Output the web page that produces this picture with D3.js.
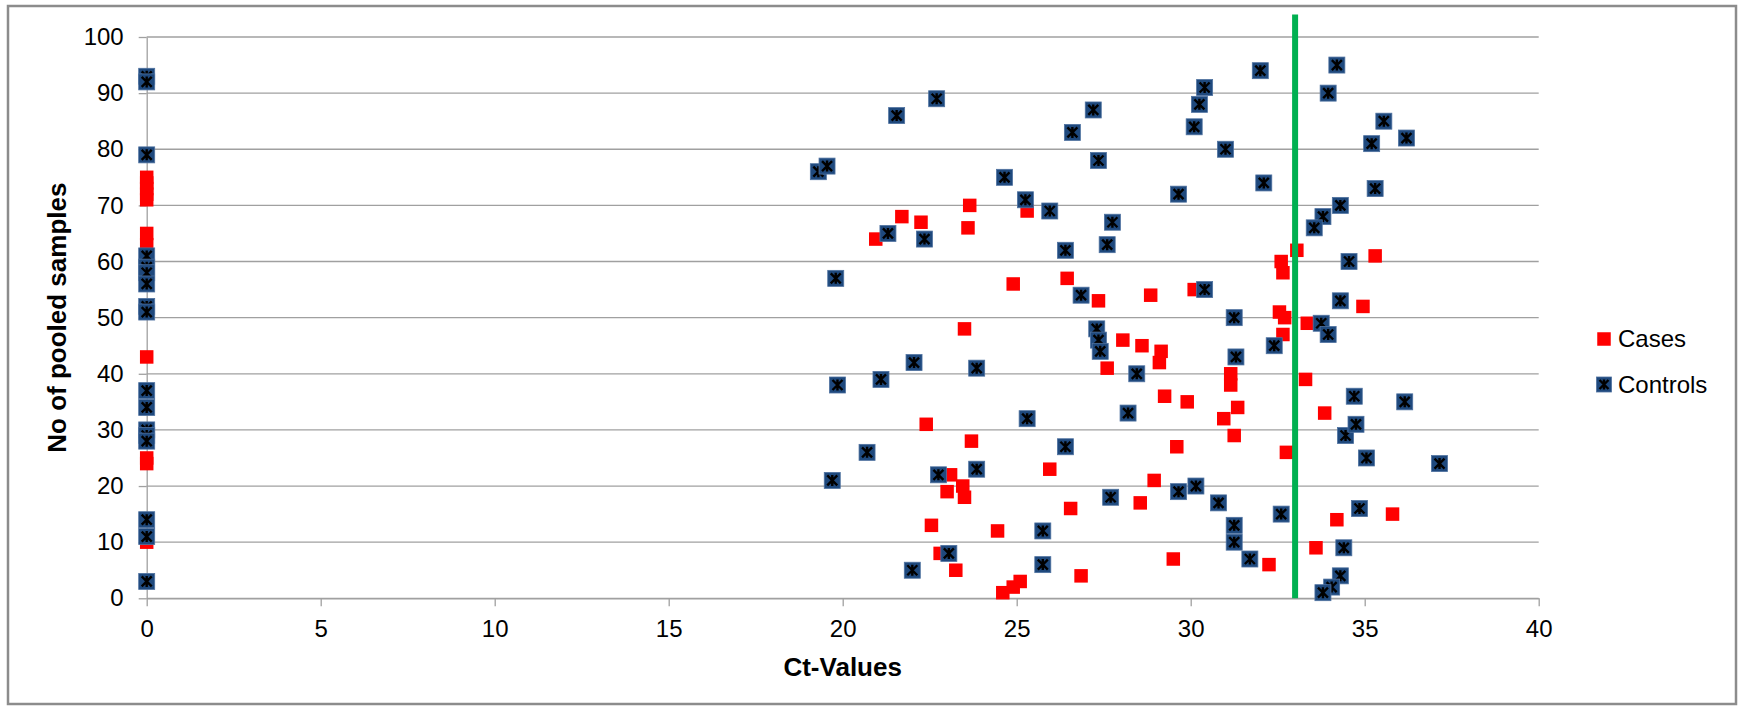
<!DOCTYPE html>
<html>
<head>
<meta charset="utf-8">
<script src="https://cdn.jsdelivr.net/npm/d3@7"></script>
<style>
  body { margin: 0; background: #fff; }
  svg text { font-family: Arial, "Liberation Sans", sans-serif; }
</style>
</head>
<body>
<div id="chart"></div>
<script>
// Cases (red squares): Ct value and pool number
const casesCt = [
  0, 0, 0, 0, 0, 0, 0, 0, 0, 0, 0,
  23.65, 21.7, 22.25, 23.6, 20.95, 24.9, 23.5, 22.4, 23.7, 23.1, 23.45, 23.0, 23.5, 22.55, 24.45, 22.8, 23.25, 24.6,
  25.3, 26.45, 27.35, 28.85, 28.05, 28.6, 29.15, 29.1, 27.6, 29.25, 29.9, 29.6, 25.95, 28.95, 28.55, 26.55, 29.5, 26.85, 25.1, 24.9,
  33.05, 32.6, 32.65, 30.1, 32.55, 32.7, 33.35, 32.65, 31.15, 31.15, 33.3, 31.35, 30.95, 33.85, 31.25, 32.75, 34.2, 33.6, 32.25,
  35.3, 34.95, 35.8
];
const casesNo = [
  75, 74, 73, 72, 71, 65, 63, 43, 25, 24, 10,
  70, 68, 67, 66, 64, 56, 48, 31, 28, 22, 20, 19, 18, 13, 12, 8, 5, 1,
  69, 57, 53, 54, 46, 45, 44, 42, 41, 36, 35, 27, 23, 21, 17, 16, 7, 4, 3, 2,
  62, 60, 58, 55, 51, 50, 49, 47, 40, 38, 39, 34, 32, 33, 29, 26, 14, 9, 6,
  61, 52, 15
];

// Controls (blue starred squares)
const controlsCt = [
  0, 0, 0, 0, 0, 0, 0, 0, 0, 0, 0, 0, 0, 0, 0, 0, 0,
  22.7, 21.55, 19.3, 19.55, 24.65, 21.3, 22.35, 19.8, 22.05, 23.85, 21.1, 19.85, 20.7, 23.85, 22.75, 19.7, 23.05, 22.0,
  27.2, 26.6, 27.35, 25.25, 29.65, 25.95, 27.75, 27.6, 26.4, 26.85, 27.3, 27.35, 27.4, 28.45, 25.3, 28.2, 26.4, 27.7, 29.65, 25.75, 25.75,
  32.0, 34.2, 30.4, 30.25, 33.95, 30.1, 31.0, 32.1, 34.3, 33.8, 33.55, 34.55, 30.4, 34.3, 31.25, 33.75, 33.95, 32.4, 31.3,
  34.7, 34.45, 30.15, 30.8, 32.6, 31.25, 31.25, 34.4, 31.7, 34.3, 34.05, 33.8,
  35.55, 36.2, 35.2, 35.3, 36.15, 34.75, 35.05, 37.15, 34.85
];
const controlsNo = [
  93, 92, 79, 61, 59, 58, 56, 52, 51, 37, 34, 30, 29, 28, 14, 11, 3,
  89, 86, 76, 77, 75, 65, 64, 57, 42, 41, 39, 38, 26, 23, 22, 21, 8, 5,
  87, 83, 78, 71, 72, 69, 67, 63, 62, 54, 48, 46, 44, 40, 32, 33, 27, 18, 19, 12, 6,
  94, 95, 91, 88, 90, 84, 80, 74, 70, 68, 66, 60, 55, 53, 50, 49, 47, 45, 43,
  36, 29, 20, 17, 15, 13, 10, 9, 7, 4, 2, 1,
  85, 82, 81, 73, 35, 31, 25, 24, 16
];

const xTicks = [0, 5, 10, 15, 20, 25, 30, 35, 40];
const yTicks = [0, 10, 20, 30, 40, 50, 60, 70, 80, 90, 100];

// cut-off line
const cutoffCt = 33;
const cutoffNo = [0, 104];

const seriesNames = ["Cases", "Controls"];

const width = 1746;
const height = 712;
const marginLeft = 146.7;
const marginRight = 207.3;
const marginTop = 37;
const marginBottom = 113.7;

const gridColor = "#a0a0a0";
const caseColor = "#ff0000";
const controlFill = "#1f497d";

const svg = d3
  .select("#chart")
  .append("svg")
  .attr("width", width)
  .attr("height", height);

// outer frame
svg
  .append("rect")
  .attr("x", 8)
  .attr("y", 6)
  .attr("width", 1728)
  .attr("height", 698)
  .attr("fill", "#fff")
  .attr("stroke", "#8c8c8c")
  .attr("stroke-width", 2.5);

const x = d3
  .scaleLinear()
  .domain([0, 40])
  .range([marginLeft, width - marginRight]);

const y = d3
  .scaleLinear()
  .domain([0, 100])
  .range([height - marginBottom, marginTop]);

// horizontal gridlines
svg
  .append("g")
  .selectAll("line")
  .data(yTicks)
  .join("line")
  .attr("x1", x(0))
  .attr("x2", x(40))
  .attr("y1", (d) => y(d))
  .attr("y2", (d) => y(d))
  .attr("stroke", gridColor)
  .attr("stroke-width", 1.3);

const yAxis = svg
  .append("g")
  .attr("transform", `translate(${x(0)},0)`)
  .call(
    d3.axisLeft(y).tickValues(yTicks).tickSizeInner(8).tickSizeOuter(0).tickPadding(15)
  );

const xAxis = svg
  .append("g")
  .attr("transform", `translate(0,${y(0)})`)
  .call(
    d3.axisBottom(x).tickValues(xTicks).tickSizeInner(8).tickSizeOuter(0).tickPadding(14)
  );

[xAxis, yAxis].forEach((g) => {
  g.selectAll("path, line").attr("stroke", gridColor).attr("stroke-width", 1.3);
  g.selectAll("text")
    .attr("fill", "#000")
    .attr("font-size", 24)
    .style("font-family", 'Arial, "Liberation Sans", sans-serif');
});

// axis titles
svg
  .append("text")
  .text("Ct-Values")
  .attr("x", (x(0) + x(40)) / 2)
  .attr("y", 676)
  .attr("text-anchor", "middle")
  .attr("font-size", 26)
  .attr("font-weight", "bold")
  .attr("fill", "#000");

svg
  .append("text")
  .text("No of pooled samples")
  .attr("transform", `translate(66, ${(y(0) + y(100)) / 2}) rotate(-90)`)
  .attr("text-anchor", "middle")
  .attr("font-size", 26)
  .attr("font-weight", "bold")
  .attr("fill", "#000");

const cases = casesCt.map((c, i) => ({ ct: c, no: casesNo[i] }));
const controls = controlsCt.map((c, i) => ({ ct: c, no: controlsNo[i] }));

function drawCase(sel, size) {
  sel
    .append("rect")
    .attr("x", -size / 2)
    .attr("y", -size / 2)
    .attr("width", size)
    .attr("height", size)
    .attr("fill", caseColor);
}

function drawControl(sel, size) {
  const h = size / 2;
  const a = h - 3;
  sel
    .append("rect")
    .attr("x", -h)
    .attr("y", -h)
    .attr("width", size)
    .attr("height", size)
    .attr("fill", controlFill)
    .attr("stroke", "#4f72a0")
    .attr("stroke-width", 0.8);
  sel
    .append("path")
    .attr(
      "d",
      `M${-a},${-a}L${a},${a}M${-a},${a}L${a},${-a}M0,${-a - 0.5}L0,${a + 0.5}`
    )
    .attr("fill", "none")
    .attr("stroke", "#000")
    .attr("stroke-width", 2.4);
}

// Cases first, Controls drawn over them
svg
  .append("g")
  .selectAll("g")
  .data(cases)
  .join("g")
  .attr("transform", (d) => `translate(${x(d.ct)},${y(d.no)})`)
  .each(function () {
    drawCase(d3.select(this), 13.5);
  });

svg
  .append("g")
  .selectAll("g")
  .data(controls)
  .join("g")
  .attr("transform", (d) => `translate(${x(d.ct)},${y(d.no)})`)
  .each(function () {
    drawControl(d3.select(this), 16);
  });

// cut-off line
svg
  .append("line")
  .attr("x1", x(cutoffCt))
  .attr("x2", x(cutoffCt))
  .attr("y1", y(cutoffNo[0]))
  .attr("y2", y(cutoffNo[1]))
  .attr("stroke", "#00b050")
  .attr("stroke-width", 6);

// legend
const legend = svg
  .append("g")
  .selectAll("g")
  .data(seriesNames)
  .join("g")
  .attr("transform", (d, i) => `translate(1604, ${339 + i * 45.5})`);

legend.each(function (d, i) {
  if (i === 0) {
    drawCase(d3.select(this), 13.5);
  } else {
    drawControl(d3.select(this), 15);
  }
});

legend
  .append("text")
  .attr("x", 14)
  .attr("y", 8)
  .attr("font-size", 24)
  .attr("fill", "#000")
  .text((d) => d);
</script>
</body>
</html>
